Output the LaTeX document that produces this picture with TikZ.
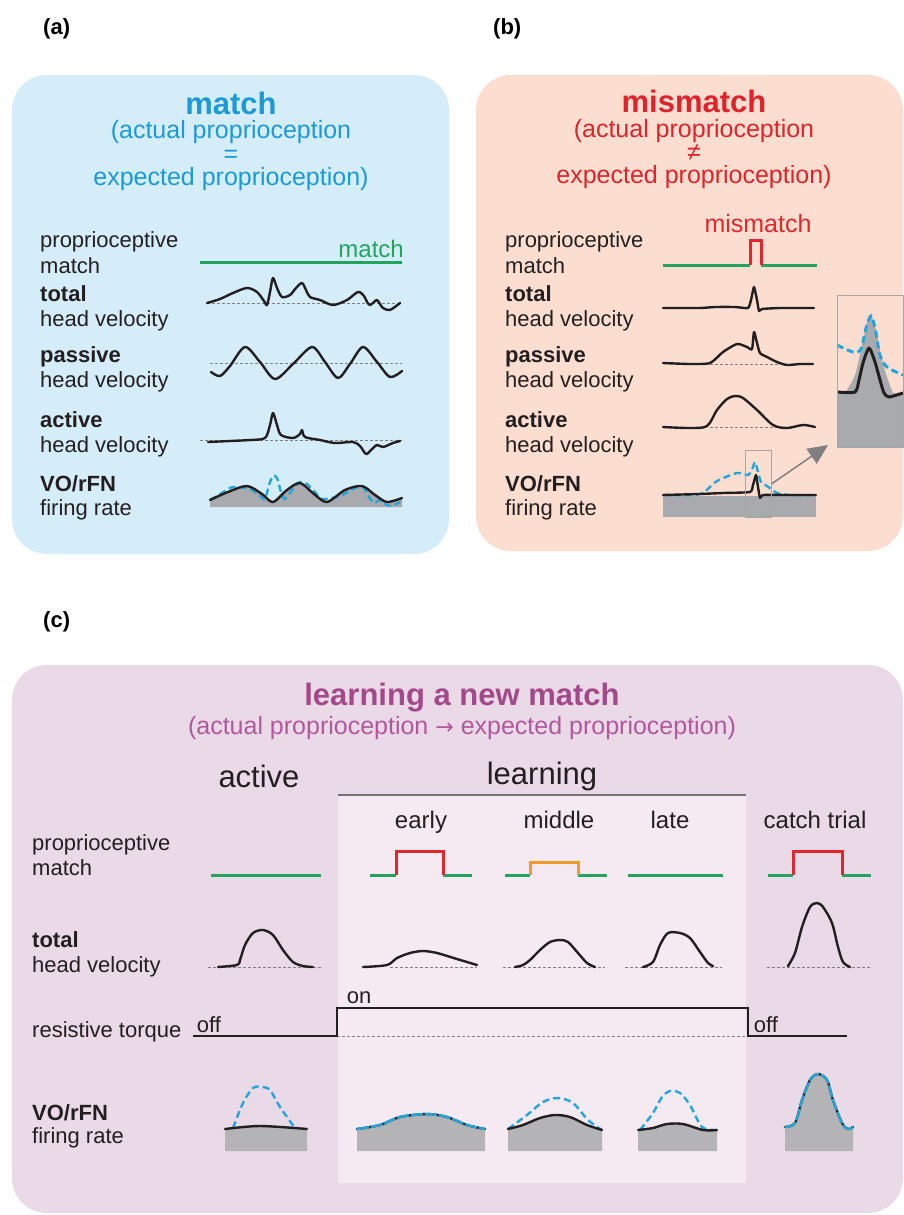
\documentclass[tikz,border=0pt]{standalone}
\usepackage{fontspec}
\setmainfont{Liberation Sans}
\newfontfamily\arrowfont{DejaVu Sans}
\usetikzlibrary{arrows.meta}
\newcommand\myfs[2]{\fontsize{#1}{#2}\selectfont}
\definecolor{bgA}{RGB}{213,237,249}
\definecolor{bgB}{RGB}{252,222,209}
\definecolor{bgC}{RGB}{234,217,230}
\definecolor{bgCin}{RGB}{245,234,241}
\definecolor{tA}{RGB}{27,154,214}
\definecolor{tB}{RGB}{224,35,43}
\definecolor{tC}{RGB}{163,72,139}
\definecolor{tCs}{RGB}{178,88,158}
\definecolor{gr}{RGB}{34,163,95}
\definecolor{rd}{RGB}{227,38,43}
\definecolor{og}{RGB}{243,154,45}
\definecolor{bl}{RGB}{35,166,219}
\definecolor{fillg}{RGB}{168,170,173}
\definecolor{fillc}{RGB}{180,180,182}
\definecolor{txt}{RGB}{35,31,32}
\definecolor{arrg}{RGB}{128,128,128}
\tikzset{
  trace/.style={line width=2.4pt, txt, line join=round, line cap=round},
  blued/.style={line width=2.4pt, bl, dash pattern=on 7pt off 4pt},
  bluef/.style={line width=2.4pt, bl, dash pattern=on 12pt off 2pt},
  baseln/.style={gray, line width=0.8pt, dash pattern=on 3pt off 2pt},
  greenl/.style={gr, line width=3pt},
  redl/.style={rd, line width=3pt, line join=miter},
  lbl/.style={anchor=base west, inner sep=0pt, font=\myfs{22}{25}, text=txt},
  lblb/.style={lbl, font=\myfs{22}{25}\bfseries},
  ttl/.style={anchor=base, inner sep=0pt, font=\myfs{31}{31}\bfseries},
  sub/.style={anchor=base, inner sep=0pt, font=\myfs{25}{25}},
  col/.style={anchor=base, inner sep=0pt, font=\myfs{24}{24}, text=txt},
  plab/.style={anchor=base west, inner sep=0pt, font=\myfs{22}{22}\bfseries, text=black},
}
\begin{document}
\begin{tikzpicture}[x=1pt,y=-1pt]
\useasboundingbox (0,0) rectangle (903,1215);
\fill[white] (0,0) rectangle (903,1215);
% panel labels
\node[plab] (la) at (43,35) {(a)};
\node[plab] (lb) at (493,35) {(b)};
\node[plab] (lc) at (43,627) {(c)};
% ===================== panel (a)
\fill[bgA, rounded corners=35pt] (12,75) rectangle (449,554);
\node[ttl, text=tA] (ta1) at (231,114) {match};
\node[sub, text=tA] (ta2) at (231,138) {(actual proprioception};
\node[sub, text=tA] (ta3) at (231,162) {=};
\node[sub, text=tA] (ta4) at (231,185) {expected proprioception)};
\node[lbl] (a1) at (40,247) {proprioceptive};
\node[lbl] (a2) at (40,273) {match};
\node[lblb] (a3) at (40,301) {total};
\node[lbl] (a4) at (40,326) {head velocity};
\node[lblb] (a5) at (40,362) {passive};
\node[lbl] (a6) at (40,387) {head velocity};
\node[lblb] (a7) at (40,427) {active};
\node[lbl] (a8) at (40,452) {head velocity};
\node[lblb] (a9) at (40,491) {VO/rFN};
\node[lbl] (a10) at (40,515) {firing rate};
% match
\draw[greenl] (200,262) -- (402,262);
\node[anchor=base east, inner sep=0pt, font=\myfs{24}{24}, text=gr] (am) at (404,257) {match};
% total
\draw[baseln] (207,303) -- (400,303);
\draw[trace] plot[smooth, tension=0.5] coordinates {(207,303) (220,299) (233,293) (247,288) (257,292) (264,301) (267,305) (270,292) (273,278) (277,288) (282,297) (290,295) (296,288) (302,283) (306,290) (310,297) (320,300) (333,305) (347,300) (358,292) (364,296) (367,302) (370,305) (374,302) (377,300) (380,304) (383,308) (390,310) (400,303)};
% passive
\draw[baseln] (210,363) -- (402,363);
\draw[trace] plot[smooth] coordinates {(211,372) (220,376) (230,366) (245,347) (260,362) (275,379) (293,364) (312,347) (325,362) (338,378) (350,364) (363,347) (377,362) (390,377) (402,371)};
% active
\draw[baseln] (200,440) -- (402,440);
\draw[trace] plot[smooth, tension=0.5] coordinates {(208,442) (230,441) (250,440) (265,438) (270,425) (273,413) (277,425) (281,435) (293,438) (300,434) (302,430) (305,437) (320,440) (335,443) (353,442) (360,446) (366,454) (371,450) (377,445) (383,447) (393,443) (400,441)};
% VO/rFN
\fill[fillg] plot[smooth] coordinates {(210,500) (228,492) (247,486) (262,494) (273,502) (287,490) (300,483) (314,494) (327,502) (345,490) (362,486) (375,495) (387,502) (402,498)} -- (402,507) -- (210,507) -- cycle;
\draw[blued] plot[smooth, tension=0.5] coordinates {(210,500) (222,493) (233,487) (250,489) (260,496) (265,499) (269,485) (273,476) (277,478) (281,492) (285,499) (292,490) (300,482) (307,484) (315,492) (322,499) (340,496) (355,488) (363,487) (369,497) (374,503) (380,500) (385,504) (391,506) (400,502)};
\draw[trace] plot[smooth] coordinates {(210,500) (228,492) (247,486) (262,494) (273,502) (287,490) (300,483) (314,494) (327,502) (345,490) (362,486) (375,495) (387,502) (402,498)};
% ===================== panel (b)
\fill[bgB, rounded corners=35pt] (476,75) rectangle (903,551);
\node[ttl, text=tB] (tb1) at (694,112) {mismatch};
\node[sub, text=tB] (tb2) at (694,137) {(actual proprioception};
\node[sub, text=tB] (tb3) at (694,160) {≠};
\node[sub, text=tB] (tb4) at (694,183) {expected proprioception)};
\node[lbl] (b1) at (505,247) {proprioceptive};
\node[lbl] (b2) at (505,273) {match};
\node[lblb] (b3) at (505,301) {total};
\node[lbl] (b4) at (505,326) {head velocity};
\node[lblb] (b5) at (505,362) {passive};
\node[lbl] (b6) at (505,387) {head velocity};
\node[lblb] (b7) at (505,427) {active};
\node[lbl] (b8) at (505,452) {head velocity};
\node[lblb] (b9) at (505,491) {VO/rFN};
\node[lbl] (b10) at (505,515) {firing rate};
% match
\node[anchor=base, inner sep=0pt, font=\myfs{25}{25}, text=rd] (bm) at (758,232) {mismatch};
\draw[greenl] (663,265) -- (750,265);
\draw[greenl] (761,265) -- (817,265);
\draw[redl] (750,265) -- (750,240) -- (761,240) -- (761,265);
% total
\draw[trace] plot[smooth, tension=0.3] coordinates {(663,308) (700,308) (715,307) (735,307) (748,308) (751,300) (754,287) (757,300) (759,311) (762,309) (780,308) (814,308)};
% passive
\draw[baseln] (710,364) -- (780,364);
\draw[trace] plot[smooth, tension=0.4] coordinates {(663,363) (690,364) (710,363) (723,352) (737,344) (747,347) (752,349) (754,332) (757,343) (760,353) (767,357) (777,362) (787,365) (800,364) (813,364)};
% active
\draw[baseln] (710,427) -- (790,427);
\draw[trace] plot[smooth, tension=0.5] coordinates {(663,427) (690,428) (707,426) (717,410) (727,399) (735,396) (743,398) (757,410) (773,425) (787,428) (803,425) (815,427)};
% VO/rFN
\fill[fillg] (663,496) rectangle (816,517);
\draw[blued] plot[smooth, tension=0.4] coordinates {(663,495) (690,495) (703,493) (717,481) (737,473) (748,475) (752,470) (755,462) (758,472) (761,482) (767,486) (777,493) (790,495) (816,495)};
\draw[trace] plot[smooth, tension=0.3] coordinates {(663,495) (700,494) (723,493) (750,492) (753,485) (756,475) (758,487) (760,498) (763,495) (790,495) (816,495)};
\node[draw=arrg!70, line width=0.7pt, minimum width=26pt, minimum height=67pt, inner sep=0pt] (zbox) at (758,484) {};
% inset
\begin{scope}
\clip (837,295) rectangle (903,447);
\fill[fillg] (837,447) -- (837,393) -- plot[smooth] coordinates {(845,393) (855,375) (862,345) (867,322) (871,315) (876,330) (882,360) (888,380) (893,393)} -- (903,393) -- (903,447) -- cycle;
\draw[blued, line width=3pt] plot[smooth] coordinates {(837,345) (853,352) (861,349) (866,328) (871,316) (875,328) (880,355) (887,367) (903,375)};
\draw[trace, line width=3pt] plot[smooth, tension=0.4] coordinates {(837,392) (855,392) (859,380) (863,363) (869,348) (875,362) (880,380) (884,393) (889,397) (903,393)};
\end{scope}
\node[draw=arrg!70, line width=0.8pt, minimum width=66pt, minimum height=152pt, inner sep=0pt] (inset) at (870,371) {};
\coordinate (tip) at (828,445);
\draw[arrg, line width=1.5pt, -{Triangle[length=20pt,width=18pt]}] (zbox.east) -- (tip);
% ===================== panel (c)
\fill[bgC, rounded corners=35pt] (12,665) rectangle (903,1213);
\fill[bgCin] (338,795) rectangle (746,1183);
\draw[arrg!90!black, line width=1.6pt] (338,795) -- (746,795);
\node[ttl, text=tC] (tc1) at (462,705) {learning a new match};
\node[sub, text=tCs] (tc2) at (462,734) {(actual proprioception {\arrowfont\myfs{22}{25}→} expected proprioception)};
\node[anchor=base, inner sep=0pt, font=\myfs{31}{31}, text=txt] (cact) at (259,787) {active};
\node[anchor=base, inner sep=0pt, font=\myfs{31}{31}, text=txt] (clearn) at (542,784) {learning};
\node[col] (cearly) at (421,828) {early};
\node[col] (cmid) at (559,828) {middle};
\node[col] (clate) at (670,828) {late};
\node[col] (ccatch) at (815,828) {catch trial};
\node[lbl] (c1) at (32,850) {proprioceptive};
\node[lbl] (c2) at (32,875) {match};
\node[lblb] (c3) at (32,947) {total};
\node[lbl] (c4) at (32,972) {head velocity};
\node[lbl] (c5) at (32,1037) {resistive torque};
\node[lblb] (c6) at (32,1120) {VO/rFN};
\node[lbl] (c7) at (32,1143) {firing rate};
% match row
\draw[greenl] (211,875) -- (321,875);
\draw[greenl] (370,875) -- (396,875);
\draw[greenl] (443,875) -- (472,875);
\draw[redl] (396,875) -- (396,851) -- (443,851) -- (443,875);
\draw[greenl] (505,875) -- (530,875);
\draw[greenl] (578,875) -- (607,875);
\draw[og, line width=3pt] (530,875) -- (530,862) -- (578,862) -- (578,875);
\draw[greenl] (628,875) -- (723,875);
\draw[greenl] (768,875) -- (793,875);
\draw[greenl] (842,875) -- (871,875);
\draw[redl] (793,875) -- (793,851) -- (842,851) -- (842,875);
% head velocity row
\draw[baseln] (208,967) -- (322,967);
\draw[trace] plot[smooth] coordinates {(218,967) (237,965) (240,960) (245,945) (253,933) (263,930) (273,935) (283,950) (293,962) (303,966) (313,967)};
\draw[baseln] (390,967) -- (477,967);
\draw[trace] plot[smooth] coordinates {(363,967) (387,965) (397,958) (410,953) (423,951) (437,953) (457,959) (477,965)};
\draw[baseln] (503,967) -- (605,967);
\draw[trace] plot[smooth] coordinates {(515,967) (523,965) (530,960) (540,950) (550,942) (560,940) (568,942) (578,953) (587,963) (595,967)};
\draw[baseln] (625,967) -- (722,967);
\draw[trace] plot[smooth] coordinates {(643,967) (653,962) (660,945) (668,933) (680,933) (690,938) (700,952) (708,963) (713,966)};
\draw[baseln] (767,967) -- (870,967);
\draw[trace] plot[smooth] coordinates {(788,966) (795,953) (802,927) (810,907) (817,903) (823,907) (832,923) (838,947) (843,962) (850,967)};
% torque row
\draw[baseln] (337,1036) -- (748,1036);
\draw[line width=2.4pt, txt, line join=miter] (193,1036) -- (337,1036) -- (337,1008) -- (748,1008) -- (748,1036) -- (847,1036);
\node[anchor=base, inner sep=0pt, font=\myfs{22}{22}, text=txt] (off1) at (209,1032) {off};
\node[anchor=base, inner sep=0pt, font=\myfs{22}{22}, text=txt] (on1) at (359,1003) {on};
\node[anchor=base, inner sep=0pt, font=\myfs{22}{22}, text=txt] (off2) at (766,1032) {off};
% VO/rFN row
% active
\fill[fillc] plot[smooth] coordinates {(225,1129) (260,1126) (307,1129)} -- (307,1151) -- (225,1151) -- cycle;
\draw[blued] plot[smooth] coordinates {(233,1128) (243,1103) (253,1088) (262,1087) (270,1090) (280,1107) (295,1128)};
\draw[trace] plot[smooth] coordinates {(225,1129) (260,1126) (307,1129)};
% early
\fill[fillc] plot[smooth] coordinates {(357,1129) (380,1125) (400,1117) (427,1114) (447,1117) (467,1125) (485,1129)} -- (485,1151) -- (357,1151) -- cycle;
\draw[trace] plot[smooth] coordinates {(357,1129) (380,1125) (400,1117) (427,1114) (447,1117) (467,1125) (485,1129)};
\draw[bluef] plot[smooth] coordinates {(357,1129) (380,1125) (400,1117) (427,1114) (447,1117) (467,1125) (485,1129)};
% middle
\fill[fillc] plot[smooth] coordinates {(508,1129) (523,1125) (540,1118) (555,1115) (570,1117) (587,1125) (602,1130)} -- (602,1151) -- (508,1151) -- cycle;
\draw[blued] plot[smooth] coordinates {(508,1129) (527,1115) (543,1102) (558,1098) (573,1103) (588,1120) (602,1130)};
\draw[trace] plot[smooth] coordinates {(508,1129) (523,1125) (540,1118) (555,1115) (570,1117) (587,1125) (602,1130)};
% late
\fill[fillc] plot[smooth] coordinates {(638,1130) (653,1128) (667,1124) (683,1124) (703,1130) (717,1130)} -- (717,1151) -- (638,1151) -- cycle;
\draw[blued] plot[smooth] coordinates {(640,1130) (653,1113) (662,1097) (670,1091) (680,1093) (690,1105) (702,1127) (717,1130)};
\draw[trace] plot[smooth] coordinates {(638,1130) (653,1128) (667,1124) (683,1124) (703,1130) (717,1130)};
% catch
\fill[fillc] plot[smooth] coordinates {(785,1127) (795,1123) (802,1100) (810,1080) (818,1074) (827,1080) (833,1100) (842,1123) (848,1129) (853,1127)} -- (853,1151) -- (785,1151) -- cycle;
\draw[trace] plot[smooth] coordinates {(785,1127) (795,1123) (802,1100) (810,1080) (818,1074) (827,1080) (833,1100) (842,1123) (848,1129) (853,1127)};
\draw[bluef] plot[smooth] coordinates {(785,1127) (795,1123) (802,1100) (810,1080) (818,1074) (827,1080) (833,1100) (842,1123) (848,1129) (853,1127)};
\end{tikzpicture}
\end{document}
